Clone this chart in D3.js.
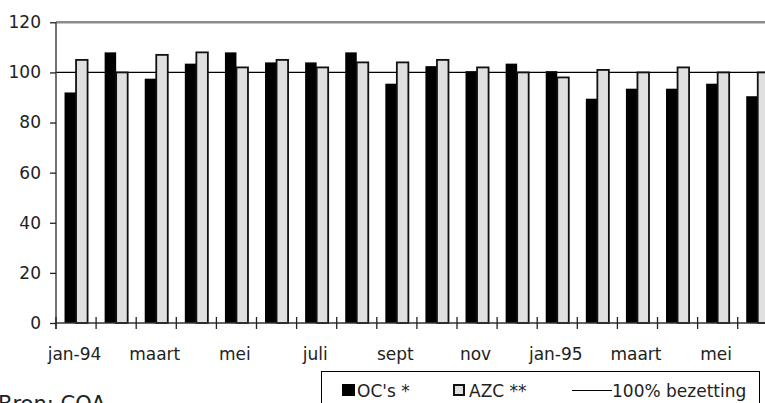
<!DOCTYPE html>
<html>
<head>
<meta charset="utf-8">
<script src="https://cdn.jsdelivr.net/npm/d3@7"></script>
<style>
  html, body { margin: 0; padding: 0; background: #fff; overflow: hidden; }
  svg { display: block; font-family: "DejaVu Sans", sans-serif; }
</style>
</head>
<body>
<svg id="chart" width="765" height="403"></svg>
<script>
// Bezettingsgraad opvangcentra per maand (%)
const months = ["jan-94", "feb", "maart", "april", "mei", "juni", "juli", "aug", "sept",
                "okt", "nov", "dec", "jan-95", "feb", "maart", "april", "mei", "juni"];
const ocValues  = [92, 108, 97.5, 103.5, 108, 104, 104, 108, 95.5, 102.5, 100.5, 103.5, 100.5, 89.5, 93.5, 93.5, 95.5, 90.5];
const azcValues = [105, 100, 107, 108, 102, 105, 102, 104, 104, 105, 102, 100, 98, 101, 100, 102, 100, 100];
const yTicks = [0, 20, 40, 60, 80, 100, 120];
const fullOccupancy = 100;
const seriesNames = ["OC's *", "AZC **"];
const lineName = "100% bezetting";
const source = "Bron: COA";

const svg = d3.select("#chart");

const plotLeft = 56, plotTop = 22.3, plotBottom = 323, step = 40.1;
const x0 = d3.scaleBand().domain(d3.range(months.length))
  .range([plotLeft, plotLeft + step * months.length]).padding(0);
const x1 = d3.scaleBand().domain([0, 1]).range([0, x0.bandwidth()])
  .paddingInner(0).paddingOuter(0.74);
const y = d3.scaleLinear().domain([0, 120]).range([plotBottom, plotTop]);

// top frame line at 120
svg.append("line")
  .attr("x1", plotLeft).attr("x2", 765)
  .attr("y1", y(120)).attr("y2", y(120))
  .attr("stroke", "#8c8c8c").attr("stroke-width", 2.5);

// 100% reference line (behind the bars)
svg.append("line")
  .attr("x1", plotLeft).attr("x2", 765)
  .attr("y1", y(fullOccupancy)).attr("y2", y(fullOccupancy))
  .attr("stroke", "#000").attr("stroke-width", 1.2);

// bars
const groups = svg.append("g").selectAll("g")
  .data(months.map((m, i) => ({ i, vals: [ocValues[i], azcValues[i]] })))
  .join("g")
  .attr("transform", d => `translate(${x0(d.i)},0)`);

groups.append("rect")
  .attr("x", x1(0)).attr("width", x1.bandwidth())
  .attr("y", d => y(d.vals[0])).attr("height", d => y(0) - y(d.vals[0]))
  .attr("fill", "#000");

groups.append("rect")
  .attr("x", x1(1)).attr("width", x1.bandwidth())
  .attr("y", d => y(d.vals[1])).attr("height", d => y(0) - y(d.vals[1]))
  .attr("fill", "#e0e0e0").attr("stroke", "#111").attr("stroke-width", 1.8);

// y axis
const yAxis = svg.append("g").attr("transform", `translate(${plotLeft},0)`)
  .call(d3.axisLeft(y).tickValues(yTicks).tickSize(6).tickPadding(9).tickSizeOuter(0));
yAxis.select(".domain").attr("stroke", "#444").attr("stroke-width", 1.5)
  .attr("d", `M0,${y(120)}V${plotBottom + 6}`);
yAxis.selectAll(".tick line").attr("stroke", "#222").attr("stroke-width", 1.3);
yAxis.selectAll(".tick text").attr("font-size", 17).attr("fill", "#222")
  .attr("font-family", "DejaVu Sans, sans-serif");

// x axis with ticks on category boundaries
const xg = svg.append("g");
xg.append("line").attr("x1", plotLeft).attr("x2", 765)
  .attr("y1", plotBottom).attr("y2", plotBottom)
  .attr("stroke", "#333").attr("stroke-width", 1.5);
xg.selectAll("line.tk")
  .data(d3.range(months.length + 1))
  .join("line").attr("class", "tk")
  .attr("x1", i => plotLeft + i * x0.step()).attr("x2", i => plotLeft + i * x0.step())
  .attr("y1", plotBottom - 6).attr("y2", plotBottom + 6)
  .attr("stroke", "#222").attr("stroke-width", 1.3);
xg.selectAll("text")
  .data(months.map((m, i) => ({ m, i })).filter(d => d.i % 2 === 0))
  .join("text")
  .attr("x", d => x0(d.i) + x0.bandwidth() / 2 - 1.5)
  .attr("y", 360)
  .attr("text-anchor", "middle")
  .attr("font-size", 17).attr("fill", "#222")
  .text(d => d.m);

// legend
const lg = svg.append("g");
lg.append("rect").attr("x", 321.5).attr("y", 371.5).attr("width", 438).attr("height", 60)
  .attr("fill", "#fff").attr("stroke", "#000").attr("stroke-width", 1);
lg.append("rect").attr("x", 342).attr("y", 384).attr("width", 13).attr("height", 12).attr("fill", "#000");
lg.append("text").attr("x", 357).attr("y", 396.5).attr("font-size", 17).attr("fill", "#222").text(seriesNames[0]);
lg.append("rect").attr("x", 454).attr("y", 385).attr("width", 10).attr("height", 10)
  .attr("fill", "#e0e0e0").attr("stroke", "#111").attr("stroke-width", 2);
lg.append("text").attr("x", 469).attr("y", 396.5).attr("font-size", 17).attr("fill", "#222").text(seriesNames[1]);
lg.append("line").attr("x1", 572).attr("x2", 612).attr("y1", 390.5).attr("y2", 390.5)
  .attr("stroke", "#000").attr("stroke-width", 1.2);
lg.append("text").attr("x", 612).attr("y", 396.5).attr("font-size", 17).attr("fill", "#222").text(lineName);

// source note
svg.append("text").attr("x", -2).attr("y", 411).attr("font-size", 21).attr("fill", "#222").text(source);
</script>
</body>
</html>
